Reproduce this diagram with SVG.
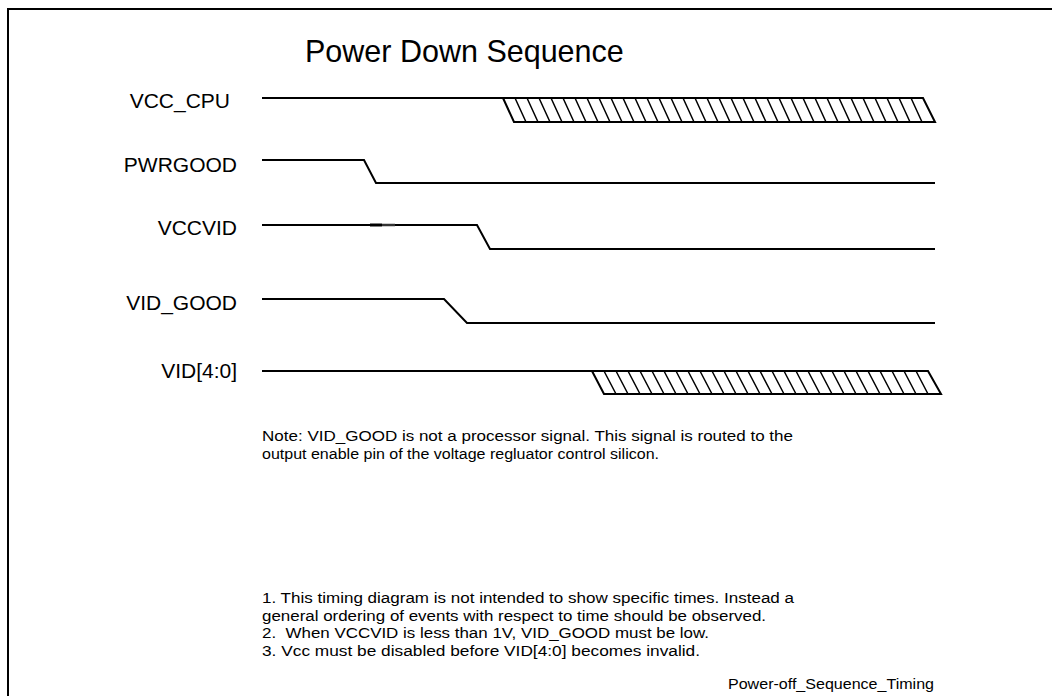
<svg xmlns="http://www.w3.org/2000/svg" width="1052" height="696" viewBox="0 0 1052 696">
<style>
.sig{fill:none;stroke:#000;stroke-width:2;stroke-linejoin:miter}
.hatch{fill:none;stroke:#000;stroke-width:1.5}
.lbl{font-family:"Liberation Sans",Arial,sans-serif;font-size:21px;fill:#000;text-anchor:end}
.note{font-family:"Liberation Sans",Arial,sans-serif;font-size:15.5px;fill:#000}
.title{font-family:"Liberation Sans",Arial,sans-serif;font-size:30.5px;fill:#000}
</style>
<rect width="1052" height="696" fill="#fff"/>
<path d="M8 696V9H1052" fill="none" stroke="#000" stroke-width="2"/>
<text class="title" x="305" y="62">Power Down Sequence</text>
<g id="labels">
<text class="lbl" x="230" y="108">VCC_CPU</text>
<text class="lbl" x="237" y="172">PWRGOOD</text>
<text class="lbl" x="237" y="235">VCCVID</text>
<text class="lbl" x="237" y="310">VID_GOOD</text>
<text class="lbl" x="237" y="378">VID[4:0]</text>
</g>
<g id="connectors">
<g id="vcc_cpu">
<path class="sig" d="M262 98H923L935 122H514L503 98"/>
<path class="hatch" d="M515 98l11 24M527 98l11 24M539 98l11 24M551 98l11 24M563 98l11 24M575 98l11 24M587 98l11 24M599 98l11 24M611 98l11 24M623 98l11 24M635 98l11 24M647 98l11 24M659 98l11 24M671 98l11 24M683 98l11 24M695 98l11 24M707 98l11 24M719 98l11 24M731 98l11 24M743 98l11 24M755 98l11 24M767 98l11 24M779 98l11 24M791 98l11 24M803 98l11 24M815 98l11 24M827 98l11 24M839 98l11 24M851 98l11 24M863 98l11 24M875 98l11 24M887 98l11 24M899 98l11 24M911 98l11 24"/>
</g>
<g id="pwrgood">
<path class="sig" d="M262 160H364L376 183H935"/>
</g>
<g id="vccvid">
<path class="sig" d="M262 225H477L490 249H935"/>
<path d="M370 225H382" stroke="#000" stroke-width="3"/>
<path d="M382 225H395" stroke="#333" stroke-width="2.5"/>
</g>
<g id="vid_good">
<path class="sig" d="M262 299H444L467 323H935"/>
</g>
<g id="vid">
<path class="sig" d="M262 371H928L941 394H604L592 371"/>
<path class="hatch" d="M604 371l12 23M616 371l12 23M628 371l12 23M640 371l12 23M652 371l12 23M664 371l12 23M676 371l12 23M688 371l12 23M700 371l12 23M712 371l12 23M724 371l12 23M736 371l12 23M748 371l12 23M760 371l12 23M772 371l12 23M784 371l12 23M796 371l12 23M808 371l12 23M820 371l12 23M832 371l12 23M844 371l12 23M856 371l12 23M868 371l12 23M880 371l12 23M892 371l12 23M904 371l12 23M916 371l12 23"/>
</g>
</g>
<g id="notes">
<text class="note" x="262" y="441" textLength="531" lengthAdjust="spacingAndGlyphs">Note: VID_GOOD is not a processor signal. This signal is routed to the</text>
<text class="note" x="262" y="459" textLength="397" lengthAdjust="spacingAndGlyphs">output enable pin of the voltage regluator control silicon.</text>
<text class="note" x="262" y="603" textLength="532" lengthAdjust="spacingAndGlyphs">1. This timing diagram is not intended to show specific times. Instead a</text>
<text class="note" x="262" y="621" textLength="504" lengthAdjust="spacingAndGlyphs">general ordering of events with respect to time should be observed.</text>
<text class="note" x="262" y="638" textLength="447" lengthAdjust="spacingAndGlyphs" xml:space="preserve">2.  When VCCVID is less than 1V, VID_GOOD must be low.</text>
<text class="note" x="262" y="656" textLength="438" lengthAdjust="spacingAndGlyphs">3. Vcc must be disabled before VID[4:0] becomes invalid.</text>
<text class="note" x="728" y="689" textLength="206" lengthAdjust="spacingAndGlyphs">Power-off_Sequence_Timing</text>
</g>
</svg>
